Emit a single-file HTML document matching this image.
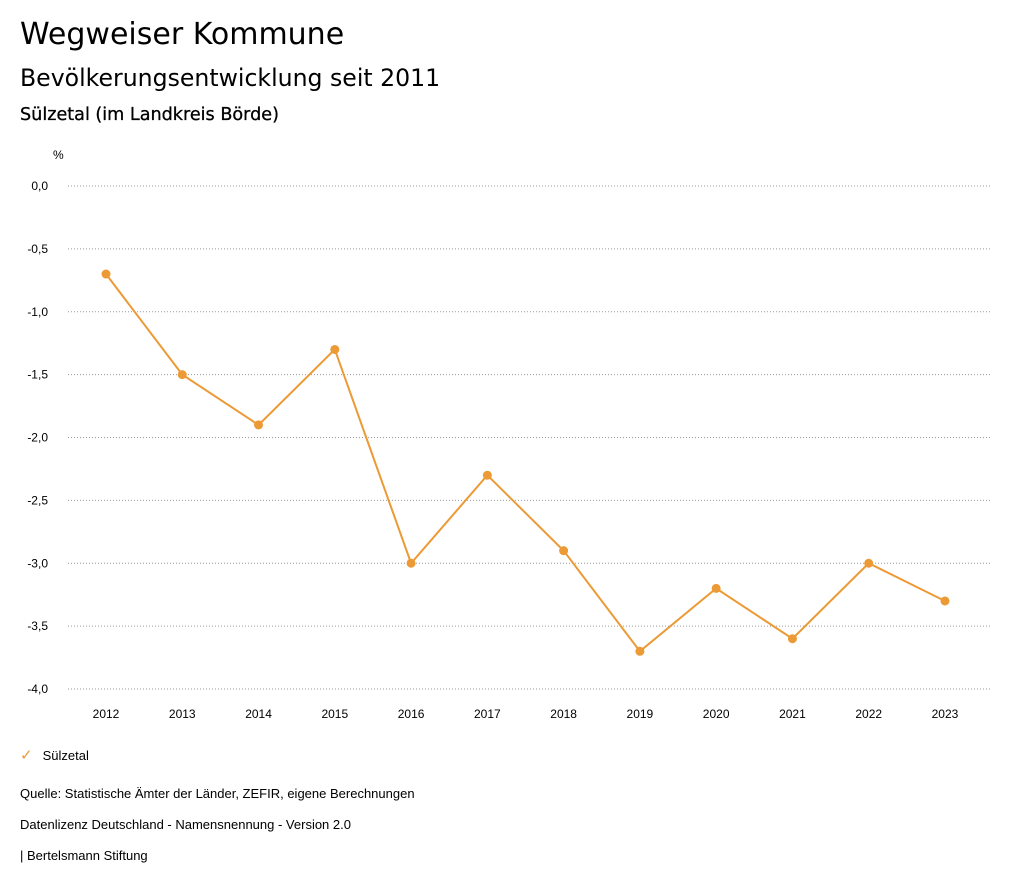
<!DOCTYPE html>
<html><head><meta charset="utf-8"><style>
body{margin:0;background:#fff;width:1024px;height:888px;overflow:hidden;font-family:"Liberation Sans",sans-serif;color:#000}
.t{position:absolute;left:20px;white-space:nowrap}
</style></head><body>
<div class="t" style="top:17px;font-family:'DejaVu Sans',sans-serif;font-size:30px">Wegweiser Kommune</div>
<div class="t" style="top:64px;font-family:'DejaVu Sans',sans-serif;font-size:23.6px">Bevölkerungsentwicklung seit 2011</div>
<div class="t" style="top:105px;font-family:'DejaVu Sans',sans-serif;font-size:17.6px;-webkit-text-stroke:0.3px #000">Sülzetal (im Landkreis Börde)</div>
<svg id="c" width="1024" height="888" style="position:absolute;left:0;top:0;font-family:'Liberation Sans',sans-serif"></svg>
<div class="t" style="top:746px;font-size:13px"><span style="color:#ec9a35;font-size:15px;margin-right:10px">✓</span>Sülzetal</div>
<div class="t" style="top:786px;font-size:13px">Quelle: Statistische Ämter der Länder, ZEFIR, eigene Berechnungen</div>
<div class="t" style="top:817px;font-size:13px">Datenlizenz Deutschland - Namensnennung - Version 2.0</div>
<div class="t" style="top:848px;font-size:13px">| Bertelsmann Stiftung</div>
<script>
const years=[2012,2013,2014,2015,2016,2017,2018,2019,2020,2021,2022,2023];
const values=[-0.7,-1.5,-1.9,-1.3,-3.0,-2.3,-2.9,-3.7,-3.2,-3.6,-3.0,-3.3];
const yTicks=[0,-0.5,-1,-1.5,-2,-2.5,-3,-3.5,-4];
const NS="http://www.w3.org/2000/svg";
const svg=document.getElementById('c');
const y=v=>186+(-v)*125.75;
const x=i=>106+i*76.27;
function mk(t,a,p){const e=document.createElementNS(NS,t);for(const k in a)e.setAttribute(k,a[k]);(p||svg).appendChild(e);return e;}
const u=mk('text',{x:53,y:159,'font-size':12});u.textContent='%';


yTicks.forEach(v=>{
 const g=mk('line',{x1:68,x2:990,y1:y(v),y2:y(v),stroke:'#999','stroke-dasharray':'1,2','stroke-width':1});
 
 
 const t=mk('text',{x:48,y:y(v)+4,'text-anchor':'end','font-size':12});
 t.textContent=v.toFixed(1).replace('.',',');
 
 
});
years.forEach((yr,i)=>{
 const t=mk('text',{x:x(i),y:718,'text-anchor':'middle','font-size':12});
 t.textContent=yr;
 
 
});
const p=mk('polyline',{points:values.map((v,i)=>x(i)+','+y(v)).join(' '),fill:'none',stroke:'#ec9a35','stroke-width':2});


values.forEach((v,i)=>{
 const c=mk('circle',{cx:x(i),cy:y(v),r:4.5,fill:'#ec9a35'});
 
 
});
</script>
</body></html>
